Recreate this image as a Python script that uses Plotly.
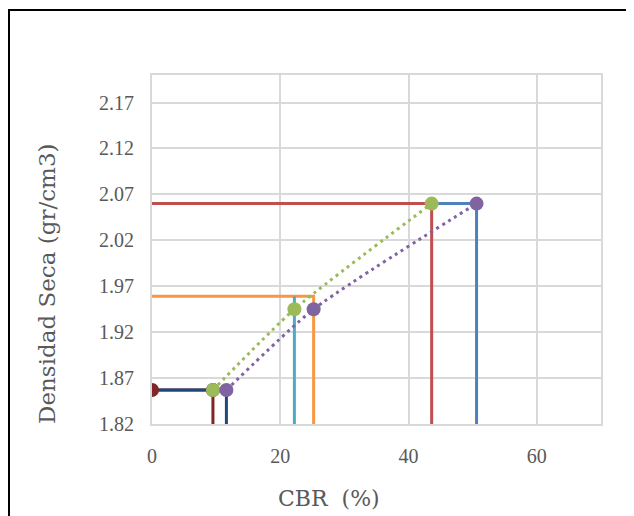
import plotly.graph_objects as go

# Data values
cbr_green = [9.5, 22.2, 43.6]
cbr_purple = [11.6, 25.2, 50.6]
dens_pts = [1.857, 1.945, 2.060]

dens_low = 1.857
dens_95 = 1.959
dens_max = 2.060
y_floor = 1.82

maroon_x = [0, 9.5, 9.5]
maroon_y = [dens_low, dens_low, y_floor]
navy_x = [0, 11.6, 11.6]
navy_y = [dens_low, dens_low, y_floor]
orange_x = [0, 25.2, 25.2]
orange_y = [dens_95, dens_95, y_floor]
cyan_x = [22.2, 22.2]
cyan_y = [dens_95, y_floor]
red_x = [0, 43.6, 43.6]
red_y = [dens_max, dens_max, y_floor]
blue_x = [0, 50.6, 50.6]
blue_y = [dens_max, dens_max, y_floor]
maroon_mk_x = [0, 9.5]
maroon_mk_y = [dens_low, dens_low]

x_ticks = [0, 20, 40, 60]
y_ticks = [1.82, 1.87, 1.92, 1.97, 2.02, 2.07, 2.12, 2.17]
x_title = "CBR  (%)"
y_title = "Densidad Seca (gr/cm3)"

W = 3
fig = go.Figure()

def line(x, y, color):
    fig.add_trace(go.Scatter(x=x, y=y, mode="lines", line=dict(color=color, width=W),
                             hoverinfo="skip", showlegend=False))

line(blue_x, blue_y, "#4F81BD")
line(red_x, red_y, "#C0504D")
line(orange_x, orange_y, "#F79646")
line(cyan_x, cyan_y, "#4BACC6")
line(maroon_x, maroon_y, "#7F2626")
line(navy_x, navy_y, "#1F497D")
fig.add_trace(go.Scatter(x=maroon_mk_x, y=maroon_mk_y, mode="markers",
                         marker=dict(color="#7F2626", size=14), showlegend=False))
fig.add_trace(go.Scatter(x=cbr_green, y=dens_pts, mode="lines+markers",
                         line=dict(color="#9BBB59", width=3, dash="3px,4px", shape="spline", smoothing=0.6),
                         marker=dict(color="#9BBB59", size=14), showlegend=False))
fig.add_trace(go.Scatter(x=cbr_purple, y=dens_pts, mode="lines+markers",
                         line=dict(color="#8064A2", width=3, dash="3px,4px", shape="spline", smoothing=0.6),
                         marker=dict(color="#8064A2", size=14), showlegend=False))

tick_font = dict(size=20, family="Liberation Serif", color="#595959")

fig.update_layout(
    width=634, height=516,
    margin=dict(l=144, r=41, t=67, b=100),
    paper_bgcolor="white", plot_bgcolor="white",
    font=dict(family="DejaVu Serif", color="#595959"),
    xaxis=dict(range=[0, 70], tickvals=x_ticks, showgrid=True, gridcolor="#D9D9D9", gridwidth=2,
               zeroline=False, showline=True, linecolor="#D9D9D9", linewidth=2, mirror=True,
               ticks="", ticklabelstandoff=13, tickfont=tick_font),
    yaxis=dict(range=[1.82, 2.20], tickvals=y_ticks, tickformat=".2f", showgrid=True, gridcolor="#D9D9D9",
               gridwidth=2, zeroline=False, showline=True, linecolor="#D9D9D9", linewidth=2, mirror=True,
               ticks="", ticklabelstandoff=12, tickfont=tick_font),
    annotations=[
        dict(text=x_title, xref="paper", yref="paper", x=(328.5 - 152) / 449, y=(424 - 498) / 349,
             xanchor="center", yanchor="middle", showarrow=False,
             font=dict(size=22, family="DejaVu Serif", color="#595959")),
        dict(text=y_title, xref="paper", yref="paper", x=(47 - 152) / 449, y=(424 - 284) / 349,
             xanchor="center", yanchor="middle", showarrow=False, textangle=-90,
             font=dict(size=23, family="DejaVu Serif", color="#595959")),
    ],
    shapes=[dict(type="rect", xref="paper", yref="paper",
                 x0=(1 - 144) / 449, x1=(700 - 144) / 449,
                 y0=(416 - 600) / 349, y1=(416 - 2) / 349,
                 line=dict(color="black", width=2), layer="below")],
)
fig.write_html("out.html")
